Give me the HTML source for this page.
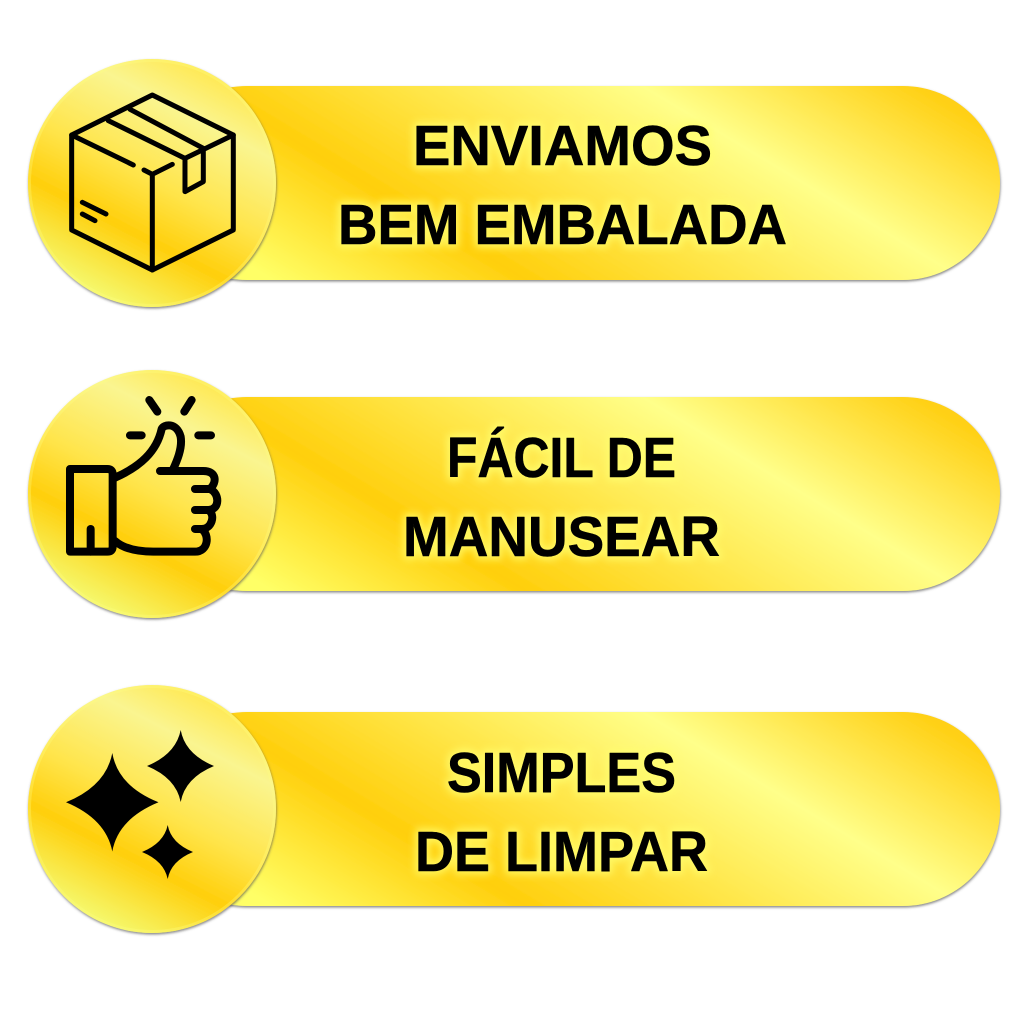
<!DOCTYPE html>
<html><head><meta charset="utf-8">
<style>html,body{margin:0;padding:0;background:#fff}svg{display:block}
text{font-family:"Liberation Sans",Arial,sans-serif;font-weight:bold;font-size:57px;fill:#000;stroke:#000;stroke-width:.6;stroke-linejoin:round}
text.glow{fill:#ffff70;stroke:#ffff70;stroke-width:7;filter:url(#blur);opacity:.8}
.ic{fill:none;stroke:#000;stroke-linecap:round;stroke-linejoin:round}
</style></head><body>
<svg width="1024" height="1024" viewBox="0 0 1024 1024" xmlns="http://www.w3.org/2000/svg">
<defs>
<linearGradient id="p" gradientUnits="userSpaceOnUse" x1="480" y1="416" x2="748" y2="-30">
<stop offset=".02" stop-color="#ffff66"/><stop offset=".27" stop-color="#ffcf0c"/><stop offset=".705" stop-color="#ffff8a"/><stop offset=".98" stop-color="#ffd014"/>
</linearGradient>
<linearGradient id="c" gradientUnits="userSpaceOnUse" x1="91" y1="300" x2="213" y2="65">
<stop offset=".04" stop-color="#f5f76a"/><stop offset=".30" stop-color="#ffcf0c"/><stop offset=".51" stop-color="#ffe54c"/><stop offset=".79" stop-color="#faf590"/><stop offset=".98" stop-color="#ffe850"/>
</linearGradient>
<filter id="blur" x="-10%" y="-30%" width="120%" height="160%"><feGaussianBlur stdDeviation="4"/></filter>
<filter id="s" x="-5%" y="-5%" width="110%" height="112%"><feDropShadow dx="0.5" dy="1.5" stdDeviation="1.2" flood-color="#555" flood-opacity=".7"/></filter>
<g id="base">
<rect x="150" y="86" width="850" height="194" rx="97" fill="url(#p)" filter="url(#s)"/>
<circle cx="152" cy="183" r="124" fill="url(#c)" filter="url(#s)"/>
<circle cx="152" cy="183" r="122.500" fill="none" stroke="#ffff80" stroke-opacity=".3" stroke-width="3"/>
</g>
</defs>

<use href="#base"/>
<use href="#base" y="311"/>
<use href="#base" y="626"/>

<!-- box -->
<g transform="translate(20,50) scale(.3333)" class="ic" stroke-width="15">
<path d="M397,135 L640,255 V540 L397,660 L155,540 V255 Z"/>
<path d="M155,255 L340,345 M372,360 L397,373 L457,343 M397,373 V660 M265,212 L495,325 M330,178 L550,295 M640,255 L495,325 V425 L550,395 V295 M187,457 L258,492 M187,492 L225,512"/>
</g>

<!-- thumb -->
<g transform="translate(20,365) scale(.3333)" class="ic" stroke-width="24">
<path d="M150,312 H262 Q278,312 278,328 V545 Q278,560 262,560 H150 Z"/>
<path d="M212,492 V560"/>
<path d="M285,338 C360,305 410,260 425,192 C430,178 470,170 482,215 C488,250 470,290 458,316"/>
<path d="M420,318 H550 C590,318 592,352 570,372 H525 M570,372 C600,385 600,435 565,435 H525 M565,435 C588,450 575,492 545,492 H525 M545,492 C570,510 565,560 525,560 H400 C350,560 310,550 285,528"/>
<path d="M388,105 L412,140 M515,105 L493,140 M330,211 H365 M535,211 H573"/>
</g>

<!-- stars -->
<g fill="#000">
<path d="M112.300,753 Q118,786 158.500,802.300 Q118,819 112.300,851.500 Q106,819 66,802.300 Q106,786 112.300,753 Z"/>
<path d="M180.700,730 Q185,754 214,766 Q185,778 180.700,802 Q176,778 147,766 Q176,754 180.700,730 Z"/>
<path d="M167.700,825 Q171,843 193,852 Q171,861 167.700,879 Q164,861 142,852 Q164,843 167.700,825 Z"/>
</g>

<!-- text -->
<text class="glow" x="413" y="165" textLength="299" lengthAdjust="spacingAndGlyphs">ENVIAMOS</text>
<text class="glow" x="338" y="244" textLength="449" lengthAdjust="spacingAndGlyphs">BEM EMBALADA</text>
<text class="glow" x="447" y="477" textLength="229" lengthAdjust="spacingAndGlyphs">FÁCIL DE</text>
<text class="glow" x="403" y="556" textLength="317" lengthAdjust="spacingAndGlyphs">MANUSEAR</text>
<text class="glow" x="447" y="792" textLength="229" lengthAdjust="spacingAndGlyphs">SIMPLES</text>
<text class="glow" x="415" y="871" textLength="293" lengthAdjust="spacingAndGlyphs">DE LIMPAR</text>

<text x="413" y="165" textLength="299" lengthAdjust="spacingAndGlyphs">ENVIAMOS</text>
<text x="338" y="244" textLength="449" lengthAdjust="spacingAndGlyphs">BEM EMBALADA</text>
<text x="447" y="477" textLength="229" lengthAdjust="spacingAndGlyphs">FÁCIL DE</text>
<text x="403" y="556" textLength="317" lengthAdjust="spacingAndGlyphs">MANUSEAR</text>
<text x="447" y="792" textLength="229" lengthAdjust="spacingAndGlyphs">SIMPLES</text>
<text x="415" y="871" textLength="293" lengthAdjust="spacingAndGlyphs">DE LIMPAR</text>
</svg>
</body></html>
